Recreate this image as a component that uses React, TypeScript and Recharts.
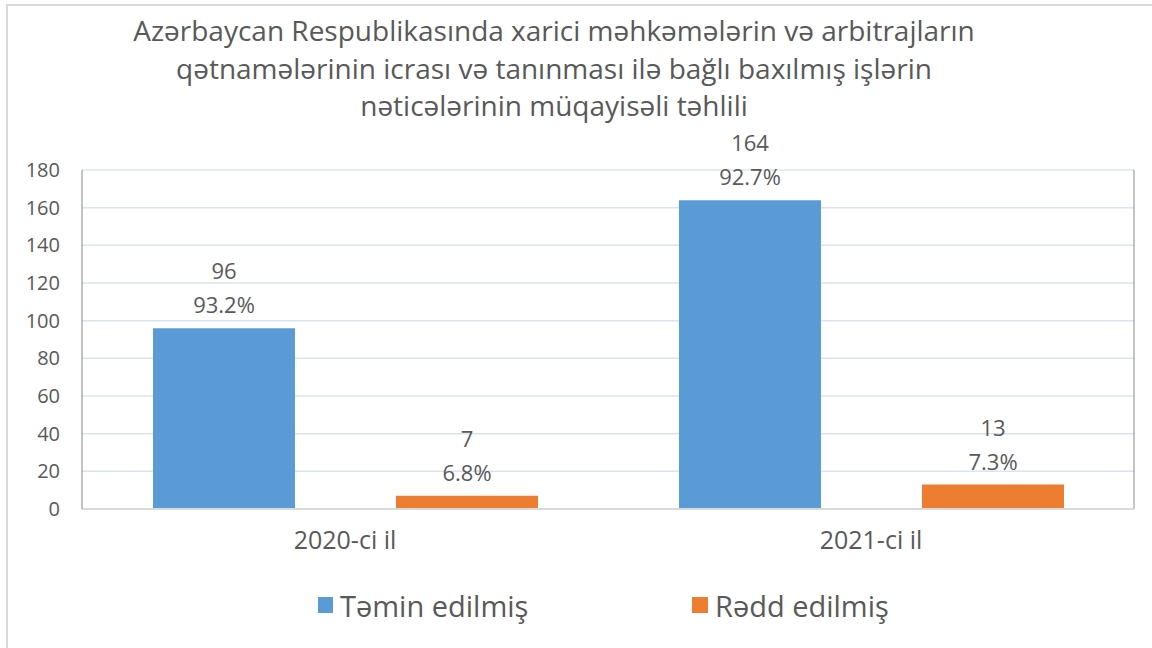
import { BarChart, Bar, XAxis, YAxis, CartesianGrid, ReferenceLine, LabelList } from "recharts";

const titleLines = [
  "Azərbaycan Respublikasında xarici məhkəmələrin və arbitrajların",
  "qətnamələrinin icrası və tanınması ilə bağlı baxılmış işlərin",
  "nəticələrinin müqayisəli təhlili",
];
const years = ["2020-ci il", "2021-ci il"];
const approved = [96, 164];
const approvedPct = ["93.2%", "92.7%"];
const rejected = [7, 13];
const rejectedPct = ["6.8%", "7.3%"];
const yTicks = [0, 20, 40, 60, 80, 100, 120, 140, 160, 180];

const BLUE = "#5b9bd5";
const ORANGE = "#ed7d31";
const INK = "#595959";
const FONT = "'Open Sans', sans-serif";

const data = years.map((year, i) => ({
  year,
  approved: approved[i],
  rejected: rejected[i],
}));

function twoLineLabel(pcts: string[]) {
  return (props: any) => {
    const { x, y, width, value, index } = props;
    const cx = Number(x) + Number(width) / 2;
    const top = Number(y);
    return (
      <g>
        <text x={cx} y={top - 58} textAnchor="middle" dominantBaseline="central" fill={INK} fontSize={22} fontFamily={FONT}>
          {value}
        </text>
        <text x={cx} y={top - 24} textAnchor="middle" dominantBaseline="central" fill={INK} fontSize={22} fontFamily={FONT}>
          {pcts[index]}
        </text>
      </g>
    );
  };
}

export default function App() {
  return (
    <div style={{ position: "absolute", left: 0, top: 0, width: 1152, height: 648, overflow: "hidden", background: "#fff", fontFamily: FONT }}>
      <div style={{ position: "absolute", left: 6, top: 4, width: 1200, height: 700, border: "2px solid #d9d9d9" }} />
      <div style={{ position: "absolute", left: 0, top: 12, width: 1108, textAlign: "center", color: INK, fontSize: 28, lineHeight: "37.5px" }}>
        {titleLines.map((t) => (
          <div key={t}>{t}</div>
        ))}
      </div>
      <div style={{ position: "absolute", left: 0, top: 0 }}>
        <BarChart
          width={1152}
          height={648}
          data={data}
          margin={{ top: 170, right: 18, left: 22, bottom: 99 }}
          barCategoryGap={71}
          barGap={101}
        >
          <CartesianGrid vertical={false} stroke="#d9e4f3" strokeWidth={1.5} />
          <XAxis
            dataKey="year"
            tick={{ fill: INK, fontSize: 25, fontFamily: FONT }}
            tickLine={false}
            axisLine={{ stroke: "#d9d9d9", strokeWidth: 2 }}
            tickMargin={16}
            height={40}
          />
          <XAxis xAxisId="num" type="number" domain={[0, 2]} hide />
          <YAxis
            domain={[0, 180]}
            ticks={yTicks}
            interval={0}
            width={60}
            tick={{ fill: INK, fontSize: 20, fontFamily: FONT }}
            tickLine={false}
            axisLine={{ stroke: "#868686" }}
            tickMargin={16}
          />
          <ReferenceLine xAxisId="num" x={1} stroke="#898989" />
          <ReferenceLine xAxisId="num" x={2} stroke="#a6a6a6" strokeWidth={2} />
          <Bar dataKey="approved" fill={BLUE} barSize={142} isAnimationActive={false}>
            <LabelList dataKey="approved" content={twoLineLabel(approvedPct)} />
          </Bar>
          <Bar dataKey="rejected" fill={ORANGE} barSize={142} isAnimationActive={false}>
            <LabelList dataKey="rejected" content={twoLineLabel(rejectedPct)} />
          </Bar>
        </BarChart>
      </div>
      <div style={{ position: "absolute", left: 318, top: 588, display: "flex", alignItems: "center", color: INK, fontSize: 29, height: 34 }}>
        <span style={{ width: 15, height: 16, background: BLUE, display: "inline-block", marginRight: 7 }} />
        <span>Təmin edilmiş</span>
      </div>
      <div style={{ position: "absolute", left: 692, top: 588, display: "flex", alignItems: "center", color: INK, fontSize: 29, height: 34 }}>
        <span style={{ width: 16, height: 16, background: ORANGE, display: "inline-block", marginRight: 7 }} />
        <span>Rədd edilmiş</span>
      </div>
    </div>
  );
}
